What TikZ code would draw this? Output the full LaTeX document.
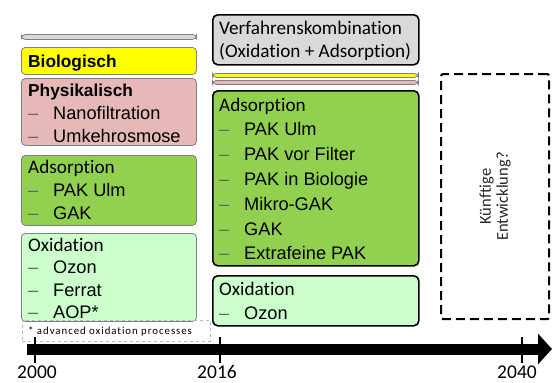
\documentclass[tikz,border=0pt]{standalone}
\usepackage{fontspec}
\setmainfont{Carlito}[Ligatures=NoCommon]
\newfontfamily\arialfont{Liberation Sans}
\usetikzlibrary{calc,arrows.meta}
\definecolor{biogelb}{HTML}{FFFF00}
\definecolor{physrosa}{HTML}{E6B9B8}
\definecolor{adsgruen}{HTML}{92D050}
\definecolor{oxigruen}{HTML}{CCFFCC}
\definecolor{kombigrau}{HTML}{D9D9D9}
\definecolor{auswahlblau}{HTML}{A9B8CC}

\begin{document}
\begin{tikzpicture}[x=1pt,y=-1pt,
    old box/.style={draw=black!50,line width=0.8pt,rounded corners=4pt,anchor=north west,inner sep=0pt,minimum width=175pt},
    new box/.style={draw=black,line width=1.6pt,rounded corners=5pt,anchor=north west,inner sep=0pt,minimum width=206pt},
    head/.style={anchor=base west,inner sep=0pt,font=\fontsize{19.2}{22}\selectfont},
    bold head/.style={anchor=base west,inner sep=0pt,font=\arialfont\bfseries\fontsize{17.3}{20}\selectfont},
    item/.style={anchor=base west,inner sep=0pt,font=\arialfont\fontsize{18.2}{22}\selectfont},
    dash item/.style={anchor=base west,inner sep=0pt,text=black!60,font=\arialfont\fontsize{18.2}{22}\selectfont},
    year/.style={anchor=base,inner sep=0pt,font=\fontsize{19.5}{22}\selectfont}]
\useasboundingbox (0,0) rectangle (552,383);

% 2000 - 2016
\node[old box,fill=kombigrau,minimum height=5pt] (GrauLeiste) at (21,34) {};
\node[old box,fill=biogelb,minimum height=27pt] (Bio) at (21,47) {};
\node[bold head] (BioText) at (28,67) {Biologisch};

\node[old box,fill=physrosa,minimum height=67pt] (Phys) at (21,78) {};
\node[bold head] (PhysText) at (28,96) {Physikalisch};
\foreach \t [count=\i] in {Nanofiltration,Umkehrosmose}
  {\node[dash item] (PhysDash\i) at (28,{96+23*\i}) {–};
   \node[item] (PhysItem\i) at (53,{96+23*\i}) {\t};}

\node[old box,fill=adsgruen,minimum height=70pt] (AdsAlt) at (21,155) {};
\node[head] (AdsAltText) at (28,173) {Adsorption};
\foreach \t [count=\i] in {PAK Ulm,GAK}
  {\node[dash item] (AdsAltDash\i) at (28,{173+23*\i}) {–};
   \node[item] (AdsAltItem\i) at (53,{173+23*\i}) {\t};}

\node[old box,fill=oxigruen,minimum height=88pt] (OxAlt) at (21,233) {};
\node[head] (OxAltText) at (28,251) {Oxidation};
\foreach \t [count=\i] in {Ozon,Ferrat,AOP*}
  {\node[dash item] (OxAltDash\i) at (28,{251+22.5*\i}) {–};
   \node[item] (OxAltItem\i) at (53,{251+22.5*\i}) {\t};}

\node[draw=auswahlblau,dashed,line width=0.6pt,anchor=north west,inner sep=0pt,minimum width=188pt,minimum height=21pt] (Auswahl) at (22,320) {};
\node[anchor=base west,inner sep=0pt,font=\addfontfeature{LetterSpace=9}\fontsize{10.8}{12}\selectfont] (Fussnote) at (28,334) {* advanced oxidation processes};

% ab 2016
\node[new box,fill=kombigrau,minimum height=50pt] (Kombi) at (212,14) {};
\node[head] (KombiText1) at (219,34) {Verfahrenskombination};
\node[head] (KombiText2) at (219,57) {(Oxidation + Adsorption)};

\node[old box,fill=biogelb,minimum width=206pt,minimum height=4pt] (GelbLeiste) at (212,73) {};
\node[old box,fill=physrosa,minimum width=206pt,minimum height=4pt] (RosaLeiste) at (212,80) {};

\node[new box,fill=adsgruen,minimum height=175pt] (AdsNeu) at (212,90) {};
\node[head] (AdsNeuText) at (219,111) {Adsorption};
\foreach \t [count=\i] in {PAK Ulm,PAK vor Filter,PAK in Biologie,Mikro-GAK,GAK,Extrafeine PAK}
  {\node[dash item] (AdsNeuDash\i) at (219,{111+24.8*\i}) {–};
   \node[item] (AdsNeuItem\i) at (244,{111+24.8*\i}) {\t};}

\node[new box,fill=oxigruen,minimum height=50pt] (OxNeu) at (212,275) {};
\node[head] (OxNeuText) at (219,295) {Oxidation};
\node[dash item] (OxNeuDash1) at (219,319.5) {–};
\node[item] (OxNeuItem1) at (244,319.5) {Ozon};

% Zukunft
\node[draw=black,line width=2.2pt,dash pattern=on 9pt off 5pt,rounded corners=2pt,anchor=north west,inner sep=0pt,minimum width=108pt,minimum height=245pt] (Zukunft) at (440,73) {};
\node[rotate=90,align=center,text=black!85,font=\fontsize{16.5}{17}\selectfont] (ZukunftText) at (Zukunft.center) {Künftige\\Entwicklung?};

% Zeitachse
\coordinate (AchseStart) at (27,349);
\coordinate (AchseEnde) at (552,349);
\draw[line width=11pt,-{Triangle[length=14pt,width=30pt]}] (AchseStart) -- (AchseEnde);
\foreach \jahr/\xpos/\lpos in {2000/35/37,2016/220/217,2040/522/517}
  {\coordinate (Tick\jahr oben) at (\xpos,337);
   \coordinate (Tick\jahr unten) at (\xpos,363);
   \draw[line width=1.6pt] (Tick\jahr oben) -- (Tick\jahr unten);
   \node[year] (Jahr\jahr) at (\lpos,378.5) {\jahr};}
\end{tikzpicture}
\end{document}
